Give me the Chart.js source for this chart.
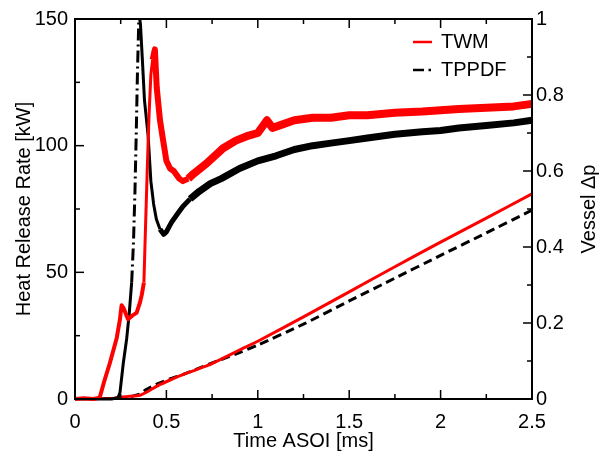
<!DOCTYPE html>
<html>
<head>
<meta charset="utf-8">
<script src="https://cdn.jsdelivr.net/npm/chart.js@4"></script>
<style>
html,body{margin:0;padding:0;background:#fff;}
canvas{display:block;}
</style>
</head>
<body>
<canvas id="c" width="610" height="459"></canvas>
<script>
// ---- data ----
const seriesNames = ["TWM", "TPPDF"];

// Heat release rate [kW], TWM
const twmHrrT = [0,0.05,0.10,0.135,0.16,0.19,0.228,0.245,0.255,0.265,0.29,0.315,0.337,0.355,0.365,0.377,0.385,0.395,0.405,0.415,0.425,0.437,0.447,0.465,0.48,0.50,0.52,0.54,0.57,0.59,0.62,0.65,0.72,0.81,0.88,0.95,1.0,1.05,1.08,1.12,1.2,1.3,1.4,1.5,1.6,1.75,1.9,2.0,2.1,2.25,2.4,2.5];
const twmHrr  = [0,0.3,0,0.5,7,14,24,31,37,36,31.5,33,34,38,41,46,66,90,112,128,134,138,123,110,103,94,91,90,87,86,87,89,93,99,102,104,105,110,107,108,110,111,111,112,112,113,113.5,114,114.5,115,115.5,116.5];

// Heat release rate [kW], TPPDF
const tppdfHrrT = [0,0.1,0.2,0.235,0.246,0.264,0.283,0.297,0.31,0.32,0.328,0.336,0.342,0.35,0.358,0.37,0.38,0.40,0.415,0.43,0.445,0.465,0.485,0.50,0.53,0.56,0.59,0.63,0.68,0.74,0.80,0.90,1.0,1.1,1.2,1.3,1.4,1.5,1.6,1.75,1.9,2.0,2.1,2.25,2.4,2.5];
const tppdfHrr  = [0,0,0,0.5,2.5,14,24,34,46,62,82,108,130,152,148,132,118,104,86,77,71,67,65,66,70,73,76,79,82,85,87,91,94,96,98.5,100,101,102,103,104.5,105.5,106,107,108,109,110];

// Vessel pressure rise (right axis)
const pressT     = [0,0.2,0.25,0.3,0.356,0.383,0.41,0.456,0.52,0.6,0.73,0.8,0.9,1.0,1.25,1.5,1.75,2.0,2.25,2.5];
const twmPress   = [0,0.001,0.005,0.007,0.01,0.016,0.023,0.036,0.05,0.066,0.089,0.105,0.129,0.152,0.216,0.282,0.348,0.413,0.476,0.54];
const tppdfPress = [0,0.001,0.003,0.006,0.013,0.023,0.03,0.041,0.053,0.066,0.091,0.104,0.122,0.142,0.197,0.258,0.318,0.378,0.437,0.497];

// tick values
const xTicks  = [0,0.5,1,1.5,2,2.5];
const yTicks  = [0,50,100,150];
const y2Ticks = [0,0.2,0.4,0.6,0.8,1];

const xTitle = "Time ASOI [ms]";
const yTitle = "Heat Release Rate [kW]";
const y2Title = "Vessel \u0394p";

// ---- build ----
const FONT = '"Liberation Sans", Arial, Helvetica, sans-serif';
const pts = (t, v) => t.map((x, i) => ({x, y: v[i]}));
const RED = '#ff0000', BLK = '#000000';

const frame = {
  id: 'frame',
  afterDatasetsDraw(chart) {
    const {ctx, chartArea: a, scales} = chart;
    ctx.save();
    ctx.strokeStyle = '#000';
    ctx.lineWidth = 1.5;
    const line = (x1, y1, x2, y2) => { ctx.beginPath(); ctx.moveTo(x1, y1); ctx.lineTo(x2, y2); ctx.stroke(); };
    const withMinor = arr => {
      const out = [];
      arr.forEach((v, i) => { out.push([v, true]); if (i < arr.length - 1) out.push([(v + arr[i + 1]) / 2, false]); });
      return out;
    };
    withMinor(xTicks).forEach(([v, major]) => {
      const p = scales.x.getPixelForValue(v), L = major ? 9 : 5;
      line(p, a.bottom, p, a.bottom - L); line(p, a.top, p, a.top + L);
    });
    withMinor(yTicks).forEach(([v, major]) => {
      const p = scales.y.getPixelForValue(v), L = major ? 9 : 5;
      line(a.left, p, a.left + L, p);
    });
    withMinor(y2Ticks).forEach(([v, major]) => {
      const p = scales.y2.getPixelForValue(v), L = major ? 9 : 5;
      line(a.right, p, a.right - L, p);
    });
    ctx.lineWidth = 2;
    ctx.strokeRect(a.left, a.top, a.right - a.left, a.bottom - a.top);

    // legend
    ctx.font = '20px ' + FONT;
    ctx.fillStyle = '#000';
    ctx.textBaseline = 'middle';
    ctx.textAlign = 'left';
    ctx.lineWidth = 2.5;
    ctx.strokeStyle = RED;
    line(413, 42, 432, 42);
    ctx.fillText(seriesNames[0], 441, 42);
    ctx.strokeStyle = BLK;
    line(413, 70, 424, 70);
    line(428.5, 70, 431, 70);
    ctx.fillText(seriesNames[1], 441, 70);

    // axis titles
    ctx.textAlign = 'center';
    ctx.fillText(xTitle, (a.left + a.right) / 2, 441);
    ctx.save();
    ctx.translate(24, (a.top + a.bottom) / 2);
    ctx.rotate(-Math.PI / 2);
    ctx.fillText(yTitle, 0, 0);
    ctx.restore();
    ctx.save();
    ctx.translate(589, (a.top + a.bottom) / 2);
    ctx.rotate(-Math.PI / 2);
    ctx.fillText(y2Title, 0, 0);
    ctx.restore();
    ctx.restore();
  }
};

const fmt = v => String(+(+v).toFixed(2));

new Chart(document.getElementById('c'), {
  type: 'line',
  data: {
    datasets: [
      {
        label: seriesNames[0], data: pts(twmHrrT, twmHrr), yAxisID: 'y',
        borderColor: RED, borderWidth: 4, pointRadius: 0, tension: 0, borderJoinStyle: 'round',
        clip: {left: 2, top: 0, right: 2, bottom: 4},
        segment: { borderWidth: c => { const x = c.p0.parsed.x; return x >= 0.6 ? 8 : (x >= 0.42 ? 6 : (x >= 0.37 ? 3 : 4)); } }
      },
      {
        label: seriesNames[1], data: pts(tppdfHrrT, tppdfHrr), yAxisID: 'y',
        borderColor: BLK, borderWidth: 3, pointRadius: 0, tension: 0, borderJoinStyle: 'round',
        clip: {left: 2, top: 0, right: 2, bottom: 4},
        segment: {
          borderWidth: c => { const x = c.p0.parsed.x; return x >= 0.6 ? 7 : (x >= 0.45 ? 5 : 3); },
          borderDash: c => (c.p0.parsed.x >= 0.30 && c.p0.parsed.x < 0.35) ? [12, 4, 2, 4] : []
        }
      },
      {
        label: 'p1', data: pts(pressT, twmPress), yAxisID: 'y2',
        borderColor: RED, borderWidth: 3, pointRadius: 0, tension: 0.2
      },
      {
        label: 'p2', data: pts(pressT, tppdfPress), yAxisID: 'y2',
        borderColor: BLK, borderWidth: 3, pointRadius: 0, tension: 0.2,
        borderDash: [9, 5]
      }
    ]
  },
  options: {
    responsive: false,
    animation: false,
    devicePixelRatio: 1,
    layout: { padding: { top: 15, left: 0, right: 0, bottom: 0 } },
    plugins: { legend: { display: false }, tooltip: { enabled: false } },
    scales: {
      x: {
        type: 'linear', min: 0, max: 2.5,
        afterBuildTicks: s => { s.ticks = xTicks.map(v => ({value: v})); },
        afterFit: s => { s.height = 60; },
        grid: { display: false, drawTicks: false }, border: { display: false },
        ticks: { color: '#000', font: { size: 20, family: FONT }, padding: 11, maxRotation: 0, callback: fmt }
      },
      y: {
        type: 'linear', position: 'left', min: 0, max: 150,
        afterBuildTicks: s => { s.ticks = yTicks.map(v => ({value: v})); },
        afterFit: s => { s.width = 75; },
        grid: { display: false, drawTicks: false }, border: { display: false },
        ticks: { color: '#000', font: { size: 20, family: FONT }, padding: 7, callback: fmt }
      },
      y2: {
        type: 'linear', position: 'right', min: 0, max: 1,
        afterBuildTicks: s => { s.ticks = y2Ticks.map(v => ({value: v})); },
        afterFit: s => { s.width = 78; },
        grid: { display: false, drawTicks: false }, border: { display: false },
        ticks: { color: '#000', font: { size: 20, family: FONT }, padding: 4, callback: fmt }
      }
    }
  },
  plugins: [frame]
});
</script>
</body>
</html>
